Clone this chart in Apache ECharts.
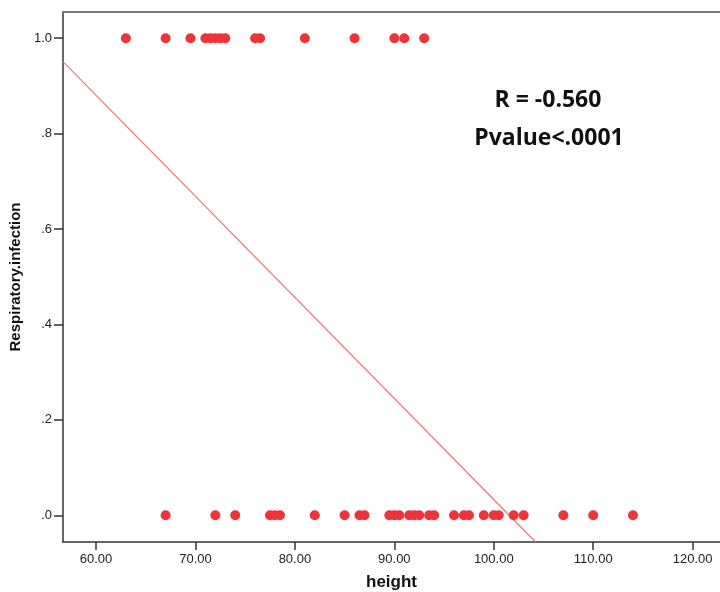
<!DOCTYPE html>
<html>
<head>
<meta charset="utf-8">
<script src="https://cdn.jsdelivr.net/npm/echarts@6/dist/echarts.min.js"></script>
<style>
  html, body { margin: 0; padding: 0; background: #fff; }
  #chart { width: 720px; height: 592px; }
</style>
</head>
<body>
<div id="chart"></div>
<script>
// heights of children with respiratory infection (1) and without (0)
var heightYes = [63, 67, 69.5, 71, 71.5, 72, 72.5, 73, 76, 76.5, 81, 86, 90, 91, 93];
var heightNo = [67, 72, 74, 77.5, 78, 78.5, 82, 85, 86.5, 87, 89.5, 90, 90.5, 91.5, 92, 92.5,
    93.5, 94, 96, 97, 97.5, 99, 100, 100.5, 102, 103, 107, 110, 114];
// fit line end points
var fitX = [56.68, 104.2];
var fitY = [0.951, -0.056];
var xTicks = [60, 70, 80, 90, 100, 110, 120];
var yTicks = [0, 0.2, 0.4, 0.6, 0.8, 1.0];
var statLines = ['R = -0.560', 'Pvalue<.0001'];

var xMin = 56.68, xMax = 122.75;
var yMin = -0.056, yMax = 1.055;
var dotColor = '#ee3339';

var chart = echarts.init(document.getElementById('chart'), null, { renderer: 'canvas' });

var option = {
    backgroundColor: '#fff',
    animation: false,
    grid: { left: 63, top: 12, right: 0, bottom: 50, outerBoundsMode: 'none', containLabel: false },
    xAxis: [{
        type: 'value',
        min: xMin,
        max: xMax,
        name: 'height',
        nameLocation: 'middle',
        nameGap: 32,
        nameTextStyle: { fontFamily: 'Liberation Sans', fontWeight: 'bold', fontSize: 17, color: '#111' },
        axisLine: { show: true, onZero: false, lineStyle: { color: '#333', width: 1.5 } },
        axisTick: { show: true, length: 8, customValues: xTicks, lineStyle: { color: '#333', width: 1.5 } },
        axisLabel: {
            customValues: xTicks,
            margin: 11,
            fontFamily: 'Liberation Sans', fontSize: 13, color: '#222',
            formatter: function (v) { return v.toFixed(2); }
        },
        splitLine: { show: false }
    }, {
        type: 'value',
        position: 'top',
        min: xMin,
        max: xMax,
        axisLine: { show: true, onZero: false, lineStyle: { color: '#777', width: 2 } },
        axisTick: { show: false },
        axisLabel: { show: false },
        splitLine: { show: false }
    }],
    yAxis: {
        type: 'value',
        min: yMin,
        max: yMax,
        name: 'Respiratory.infection',
        nameLocation: 'middle',
        nameGap: 40,
        nameTextStyle: { fontFamily: 'Liberation Sans', fontWeight: 'bold', fontSize: 15, color: '#111' },
        axisLine: { show: true, onZero: false, lineStyle: { color: '#333', width: 1.5 } },
        axisTick: { show: true, length: 9, customValues: yTicks, lineStyle: { color: '#333', width: 1.5 } },
        axisLabel: {
            customValues: yTicks,
            margin: 11,
            fontFamily: 'Liberation Sans', fontSize: 13, color: '#222',
            formatter: function (v) {
                return v === 1 ? '1.0' : v.toFixed(1).replace(/^0/, '');
            }
        },
        splitLine: { show: false }
    },
    series: [{
        type: 'line',
        data: fitX.map(function (x, i) { return [x, fitY[i]]; }),
        showSymbol: false,
        lineStyle: { color: '#f07474', width: 1.2 },
        z: 1
    }, {
        type: 'scatter',
        data: heightYes.map(function (h) { return [h, 1]; }),
        symbolSize: 10,
        itemStyle: { color: dotColor, opacity: 1 },
        z: 2
    }, {
        type: 'scatter',
        data: heightNo.map(function (h) { return [h, 0]; }),
        symbolSize: 10,
        itemStyle: { color: dotColor, opacity: 1 },
        z: 2
    }],
    graphic: [{
        type: 'text',
        x: 548, y: 100,
        style: {
            text: statLines[0],
            x: 0, y: 0,
            align: 'center', verticalAlign: 'middle',
            font: 'bold 23px "Open Sans"', fill: '#111'
        }
    }, {
        type: 'text',
        x: 549, y: 138,
        style: {
            text: statLines[1],
            x: 0, y: 0,
            align: 'center', verticalAlign: 'middle',
            font: 'bold 23px "Open Sans"', fill: '#111'
        }
    }]
};

chart.setOption(option);
</script>
</body>
</html>
